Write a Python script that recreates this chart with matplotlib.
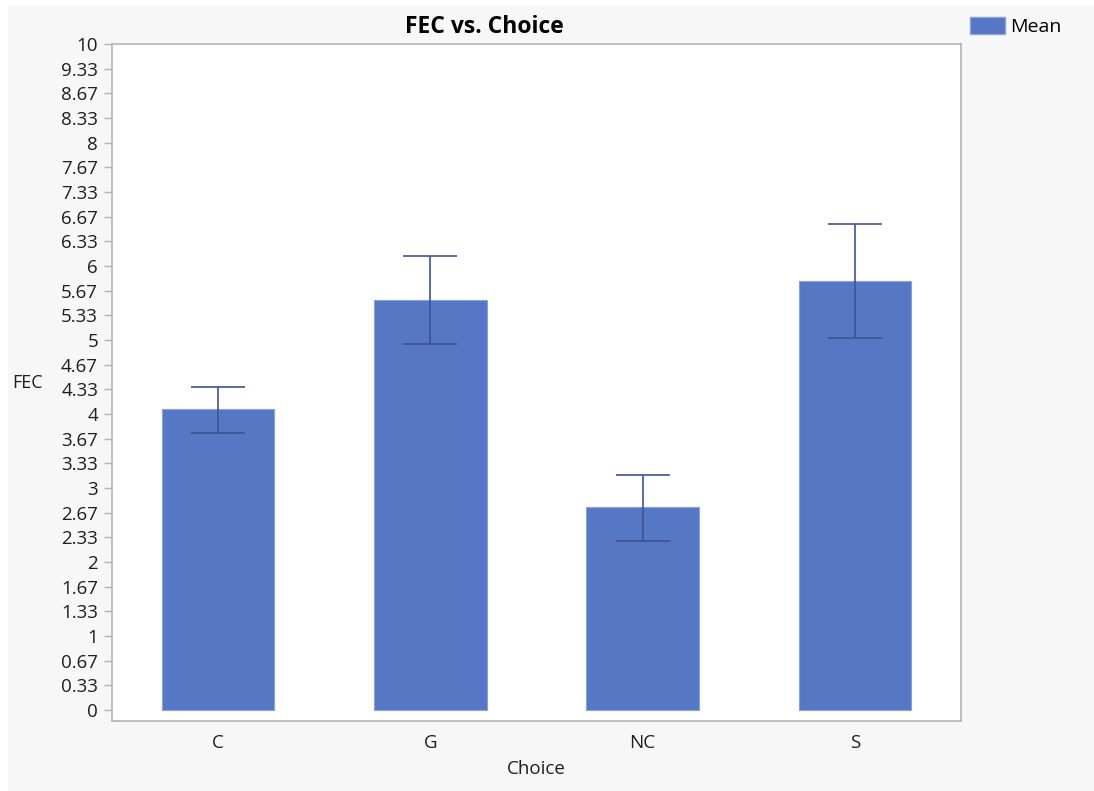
import matplotlib.pyplot as plt
from matplotlib.patches import Rectangle, Patch

plt.rcParams['font.family'] = ['Open Sans', 'DejaVu Sans']

# data
choices = ["C", "G", "NC", "S"]
means = [4.07, 5.54, 2.74, 5.80]
err_low = [3.75, 4.95, 2.29, 5.03]
err_high = [4.37, 6.13, 3.17, 6.57]

tick_labels = ["0", "0.33", "0.67", "1", "1.33", "1.67", "2", "2.33", "2.67",
               "3", "3.33", "3.67", "4", "4.33", "4.67", "5", "5.33", "5.67",
               "6", "6.33", "6.67", "7.33", "7.67", "8", "8.33", "8.67",
               "9.33", "10"]

bar_color = "#5677c4"
err_color = "#3d519c"
spine_color = "#b4b4b4"
text_color = "#1e1e1e"

W, H = 1094, 791
fig = plt.figure(figsize=(W / 100, H / 100), dpi=100, facecolor="white")

# light grey panel behind the chart
fig.patches.append(Rectangle((8 / W, 0 / H), 1 - 8 / W, (H - 6) / H,
                             transform=fig.transFigure, facecolor="#f7f7f7",
                             edgecolor="none", zorder=-10))

ax = fig.add_axes([112 / W, (H - 721) / H, (961 - 112) / W, (721 - 44) / H])
ax.set_zorder(1)
ax.set_facecolor("white")

x = range(len(choices))
ax.bar(x, means, width=0.53, color=bar_color, edgecolor="#8aa2da",
       linewidth=0.8, zorder=2)

yerr = [[m - lo for m, lo in zip(means, err_low)],
        [hi - m for m, hi in zip(means, err_high)]]
ax.errorbar(x, means, yerr=yerr, fmt="none", ecolor=err_color,
            elinewidth=1.2, capsize=19.5, capthick=1.2, zorder=3)

ax.set_xlim(-0.5, 3.5)
ax.set_ylim(-0.148, 9)
ax.set_yticks([k / 3 for k in range(len(tick_labels))])
ax.set_yticklabels(tick_labels)
ax.set_xticks(list(x))
ax.set_xticklabels(choices)

ax.tick_params(axis="y", length=6, width=1, color=spine_color, pad=4,
               labelsize=13.5, labelcolor=text_color)
ax.tick_params(axis="x", length=0, pad=9, labelsize=13.5, labelcolor=text_color)
for s in ax.spines.values():
    s.set_color(spine_color)
    s.set_linewidth(1.2)

fig.text(484 / W, 1 - 27 / H, "FEC vs. Choice", fontsize=16.5,
         fontweight="bold", ha="center", va="center", color="black")
ax.set_xlabel("Choice", fontsize=13.5, labelpad=6, color=text_color)
fig.text(28 / W, 1 - 383 / H, "FEC", fontsize=13, ha="center",
         va="center", color=text_color)

fig.legend(handles=[Patch(facecolor=bar_color, edgecolor="#8aa2da",
                          label="Mean")],
           loc="upper left", bbox_to_anchor=(962 / W, 1 - 9 / H),
           frameon=False, fontsize=14, handlelength=1.8, handleheight=0.95,
           handletextpad=0.3, borderaxespad=0)

fig.savefig("out.png", dpi=100, facecolor=fig.get_facecolor())
